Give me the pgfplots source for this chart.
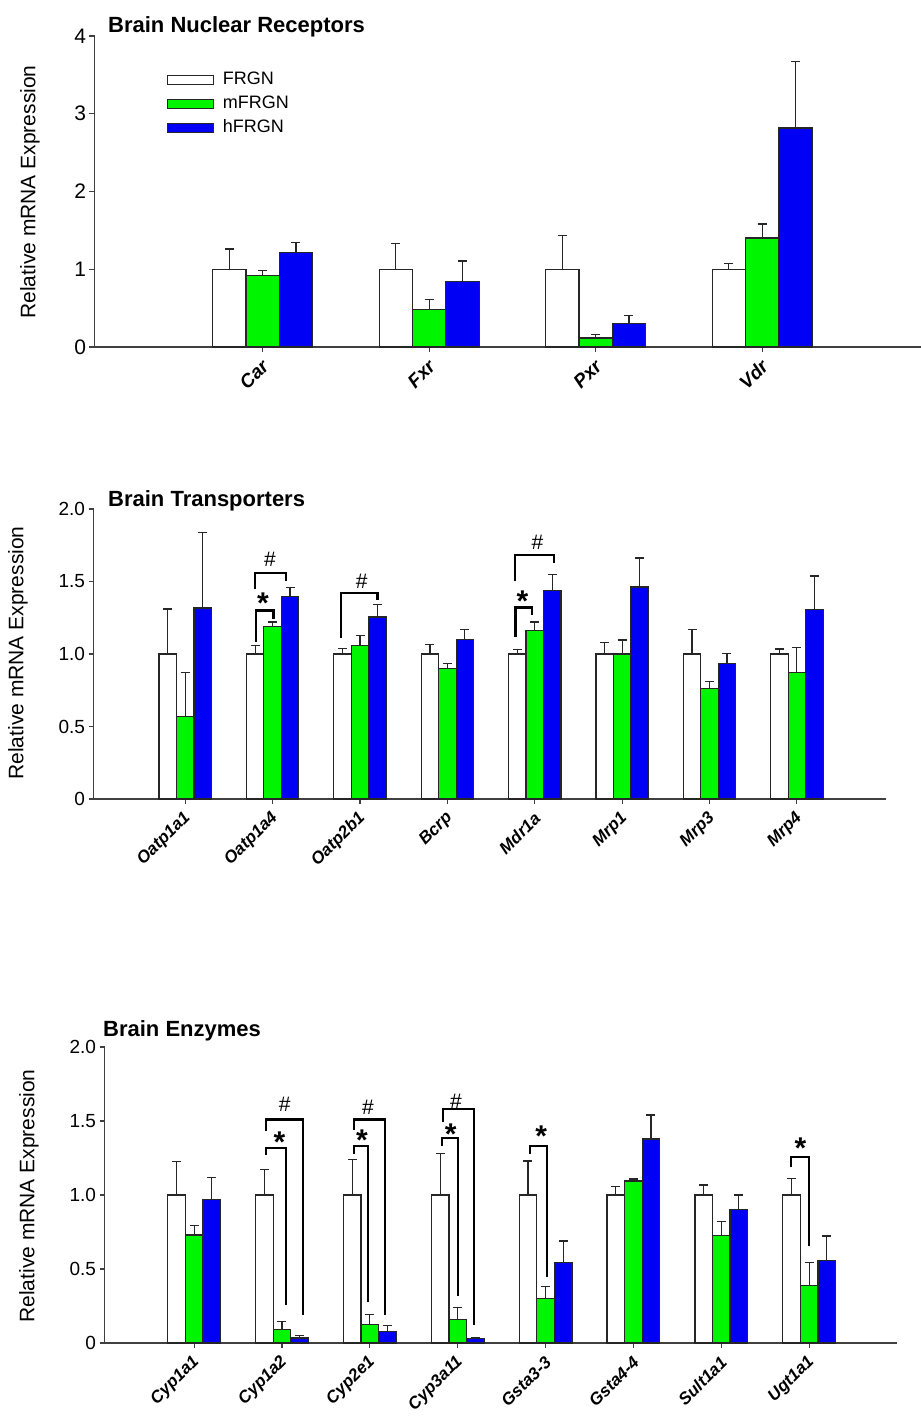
\documentclass[border=0pt]{standalone}
\usepackage{pgfplots}
\pgfplotsset{compat=1.18}
\usepackage{fontspec}
\setmainfont{Liberation Sans}
\definecolor{mgreen}{RGB}{0,245,0}
\definecolor{mblue}{RGB}{0,0,245}

\pgfplotsset{
  brainaxis/.style={
    scale only axis, axis lines*=left,
    axis line style={line width=1.3pt, black!75},
    tick style={line width=1.1pt, black!75},
    tick align=outside, major tick length=5pt,
    ymin=0, clip=false,
    /pgf/number format/assume math mode=true,
    xticklabel style={xshift=5pt, yshift=-9pt, rotate=45, anchor=east, font=\fontsize{17}{20}\selectfont\bfseries\itshape},
    yticklabel style={font=\fontsize{19}{22}\selectfont},
  },
  errstyle/.style={error bars/.cd, y dir=plus, y explicit,
    error bar style={line width=1.2pt, black!85},
    error mark=-,
    error mark options={rotate=90, line width=1.2pt, mark size=4.5pt, black!85}},
  wbar/.style={ybar, bar width=0.2, bar shift=0, fill=white, draw=black!85, line width=1.2pt, errstyle},
  gbar/.style={ybar, bar width=0.2, bar shift=0, fill=mgreen, draw=black!85, line width=1.2pt, errstyle},
  bbar/.style={ybar, bar width=0.2, bar shift=0, fill=mblue, draw=black!85, line width=1.2pt, errstyle},
  brk/.style={black, line width=2.2pt, sharp plot, mark=none, forget plot},
}
\newcommand{\starfont}{\fontsize{30}{30}\selectfont\bfseries}
\newcommand{\hashfont}{\fontsize{21}{22}\selectfont}

\begin{document}
\begin{tikzpicture}[x=1pt,y=1pt]
\path[use as bounding box] (0,0) rectangle (921,1419);

% ---------------- Top panel ----------------
\begin{axis}[brainaxis,
  at={(94.5pt,1072pt)}, anchor=south west,
  width=826.5pt, height=311pt,
  xmin=-0.01, xmax=4.954, ymax=4,
  xtick={1,2,3,4}, xticklabels={Car,Fxr,Pxr,Vdr},
  xticklabel style={font=\fontsize{19}{22}\selectfont\bfseries\itshape},
  ytick={0,1,2,3,4}, yticklabels={0,1,2,3,4},
  yticklabel style={font=\fontsize{21}{24}\selectfont},
  legend cell align=left,
  legend image code/.code={\draw[#1, line width=1.2pt] (0pt,-4.5pt) rectangle (46pt,4.5pt); \path (53pt,0pt);},
  legend style={at={(axis description cs:0.087,0.892)}, anchor=north west, draw=none, fill=none,
     inner sep=0pt, row sep=3pt,
     nodes={font=\fontsize{18}{20}\selectfont, inner sep=2pt, text height=13pt, text depth=4pt, anchor=west}},
]
\addplot[wbar] table[x=x,y=y,y error=e] {
x y e
0.8 1.000 0.260
1.8 1.000 0.335
2.8 1.000 0.430
3.8 1.000 0.072
};
\addplot[gbar] table[x=x,y=y,y error=e] {
x y e
1 0.917 0.068
2 0.480 0.133
3 0.116 0.047
4 1.402 0.180
};
\addplot[bbar] table[x=x,y=y,y error=e] {
x y e
1.2 1.217 0.128
2.2 0.840 0.266
3.2 0.304 0.103
4.2 2.817 0.853
};
\legend{FRGN,mFRGN,hFRGN}
\end{axis}
\node[anchor=base west, inner sep=0pt, font=\fontsize{22}{26}\selectfont\bfseries] at (108,1386) {Brain Nuclear Receptors};
\node[rotate=90, font=\fontsize{21}{24}\selectfont] at (30,1227) {Relative mRNA Expression};

% ---------------- Middle panel ----------------
\begin{axis}[brainaxis,
  at={(93.5pt,620pt)}, anchor=south west,
  width=792.5pt, height=290pt,
  xmin=-0.05, xmax=9.02, ymax=2,
  xtick={1,...,8}, xticklabels={Oatp1a1,Oatp1a4,Oatp2b1,Bcrp,Mdr1a,Mrp1,Mrp3,Mrp4},
  ytick={0,0.5,1,1.5,2}, yticklabels={0,0.5,1.0,1.5,2.0},
]
\addplot[wbar] table[x=x,y=y,y error=e] {
x y e
0.8 1.000 0.310
1.8 1.000 0.058
2.8 1.000 0.040
3.8 1.000 0.065
4.8 1.000 0.030
5.8 1.000 0.080
6.8 1.000 0.168
7.8 1.000 0.034
};
\addplot[gbar] table[x=x,y=y,y error=e] {
x y e
1 0.570 0.305
2 1.190 0.030
3 1.060 0.067
4 0.898 0.037
5 1.160 0.060
6 1.000 0.097
7 0.763 0.046
8 0.871 0.175
};
\addplot[bbar] table[x=x,y=y,y error=e] {
x y e
1.2 1.317 0.520
2.2 1.395 0.065
3.2 1.255 0.085
4.2 1.100 0.070
5.2 1.440 0.106
6.2 1.462 0.200
7.2 0.933 0.072
8.2 1.308 0.230
};
% brackets
\addplot[brk] coordinates {(1.81,1.08) (1.81,1.30) (2.01,1.30) (2.01,1.24)};
\addplot[brk] coordinates {(1.80,1.45) (1.80,1.56) (2.15,1.56) (2.15,1.50)};
\addplot[brk] coordinates {(2.78,1.11) (2.78,1.42) (3.20,1.42) (3.20,1.37)};
\addplot[brk] coordinates {(4.78,1.12) (4.78,1.32) (4.97,1.32) (4.97,1.27)};
\addplot[brk] coordinates {(4.77,1.50) (4.77,1.68) (5.22,1.68) (5.22,1.63)};
\node[anchor=north, inner sep=0pt, font=\starfont] at (axis cs:1.89,1.42) {*};
\node[inner sep=0pt, font=\hashfont] at (axis cs:1.97,1.65) {\#};
\node[inner sep=0pt, font=\hashfont] at (axis cs:3.02,1.50) {\#};
\node[anchor=north, inner sep=0pt, font=\starfont] at (axis cs:4.86,1.44) {*};
\node[inner sep=0pt, font=\hashfont] at (axis cs:5.03,1.77) {\#};
\end{axis}
\node[anchor=base west, inner sep=0pt, font=\fontsize{22}{26}\selectfont\bfseries] at (108,912) {Brain Transporters};
\node[rotate=90, font=\fontsize{21}{24}\selectfont] at (18,766) {Relative mRNA Expression};

% ---------------- Bottom panel ----------------
\begin{axis}[brainaxis,
  at={(104.5pt,76pt)}, anchor=south west,
  width=792.5pt, height=296pt,
  xmin=-0.02, xmax=9.0, ymax=2,
  xtick={1,...,8}, xticklabels={Cyp1a1,Cyp1a2,Cyp2e1,Cyp3a11,Gsta3-3,Gsta4-4,Sult1a1,Ugt1a1},
  ytick={0,0.5,1,1.5,2}, yticklabels={0,0.5,1.0,1.5,2.0},
]
\addplot[wbar] table[x=x,y=y,y error=e] {
x y e
0.8 1.000 0.229
1.8 1.000 0.170
2.8 1.000 0.240
3.8 1.000 0.280
4.8 1.000 0.230
5.8 1.000 0.056
6.8 1.000 0.067
7.8 1.000 0.113
};
\addplot[gbar] table[x=x,y=y,y error=e] {
x y e
1 0.730 0.064
2 0.090 0.057
3 0.124 0.070
4 0.160 0.080
5 0.298 0.085
6 1.095 0.013
7 0.725 0.095
8 0.390 0.153
};
\addplot[bbar] table[x=x,y=y,y error=e] {
x y e
1.2 0.967 0.153
2.2 0.034 0.016
3.2 0.077 0.043
4.2 0.032 0.006
5.2 0.545 0.144
6.2 1.378 0.162
7.2 0.903 0.097
8.2 0.560 0.163
};
% brackets
\addplot[brk] coordinates {(1.82,1.43) (1.82,1.51) (2.24,1.51) (2.24,0.19)};
\addplot[brk] coordinates {(1.82,1.27) (1.82,1.32) (2.05,1.32) (2.05,0.26)};
\addplot[brk] coordinates {(2.82,1.44) (2.82,1.51) (3.17,1.51) (3.17,0.19)};
\addplot[brk] coordinates {(2.82,1.28) (2.82,1.33) (2.98,1.33) (2.98,0.28)};
\addplot[brk] coordinates {(3.83,1.49) (3.83,1.58) (4.19,1.58) (4.19,0.12)};
\addplot[brk] coordinates {(3.82,1.33) (3.82,1.385) (4.00,1.385) (4.00,0.32)};
\addplot[brk] coordinates {(4.82,1.277) (4.82,1.331) (5.02,1.331) (5.02,0.448)};
\addplot[brk] coordinates {(7.79,1.187) (7.79,1.255) (8.00,1.255) (8.00,0.655)};
\node[inner sep=0pt, font=\hashfont] at (axis cs:2.03,1.61) {\#};
\node[anchor=north, inner sep=0pt, font=\starfont] at (axis cs:1.97,1.43) {*};
\node[inner sep=0pt, font=\hashfont] at (axis cs:2.98,1.59) {\#};
\node[anchor=north, inner sep=0pt, font=\starfont] at (axis cs:2.91,1.44) {*};
\node[inner sep=0pt, font=\hashfont] at (axis cs:3.98,1.63) {\#};
\node[anchor=north, inner sep=0pt, font=\starfont] at (axis cs:3.92,1.48) {*};
\node[anchor=north, inner sep=0pt, font=\starfont] at (axis cs:4.95,1.47) {*};
\node[anchor=north, inner sep=0pt, font=\starfont] at (axis cs:7.90,1.39) {*};
\end{axis}
\node[anchor=base west, inner sep=0pt, font=\fontsize{22}{26}\selectfont\bfseries] at (103,382) {Brain Enzymes};
\node[rotate=90, font=\fontsize{21}{24}\selectfont] at (29,223) {Relative mRNA Expression};
\end{tikzpicture}
\end{document}
